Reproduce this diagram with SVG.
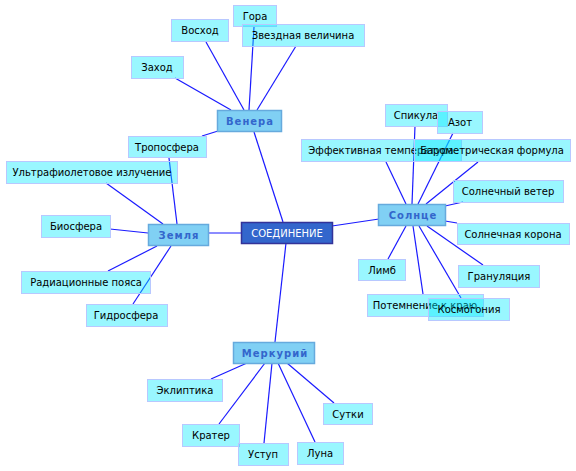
<svg xmlns="http://www.w3.org/2000/svg" width="576" height="471" viewBox="0 0 576 471">
<style>
.c line{stroke:#1a1aff;stroke-width:1.2}
.leaf rect{fill:#00eaff;fill-opacity:0.4;stroke:#b8c8ff;stroke-width:1}
.leaf text{font-family:"DejaVu Sans",sans-serif;font-size:10px;fill:#000;text-anchor:middle}
.main rect{fill:#80d0f4;stroke:#66aadd;stroke-width:1.5}
.main text{font-family:"DejaVu Sans",sans-serif;font-size:10px;font-weight:bold;fill:#3366cc;text-anchor:middle;letter-spacing:1px}
.root rect{fill:#3366cc;stroke:#333399;stroke-width:1.5}
.root text{font-family:"DejaVu Sans",sans-serif;font-size:10px;fill:#fff;text-anchor:middle}
</style>
<rect width="576" height="471" fill="#fff"/>
<g id="connectors" class="c">
<line x1="254" y1="132" x2="283" y2="222"/>
<line x1="208" y1="233" x2="241" y2="233"/>
<line x1="332" y1="226" x2="379" y2="219"/>
<line x1="286" y1="243" x2="275" y2="342"/>
<line x1="175" y1="78" x2="231" y2="110"/>
<line x1="206" y1="42" x2="244" y2="110"/>
<line x1="254" y1="27" x2="249" y2="110"/>
<line x1="296" y1="46" x2="257" y2="110"/>
<line x1="202" y1="136" x2="218" y2="131"/>
<line x1="169" y1="158" x2="177" y2="224"/>
<line x1="106" y1="183" x2="163" y2="224"/>
<line x1="110" y1="229" x2="148" y2="233"/>
<line x1="108" y1="271" x2="157" y2="246"/>
<line x1="133" y1="304" x2="171" y2="246"/>
<line x1="415" y1="126" x2="412" y2="204"/>
<line x1="453" y1="133" x2="418" y2="204"/>
<line x1="386" y1="162" x2="406" y2="204"/>
<line x1="478" y1="162" x2="426" y2="204"/>
<line x1="463" y1="202" x2="445" y2="206"/>
<line x1="445" y1="221" x2="457" y2="223"/>
<line x1="388" y1="259" x2="406" y2="226"/>
<line x1="483" y1="265" x2="427" y2="226"/>
<line x1="423" y1="294" x2="413" y2="226"/>
<line x1="461" y1="298" x2="419" y2="226"/>
<line x1="211" y1="379" x2="247" y2="363"/>
<line x1="219" y1="424" x2="265" y2="363"/>
<line x1="264" y1="443" x2="272" y2="363"/>
<line x1="315" y1="442" x2="278" y2="363"/>
<line x1="334" y1="403" x2="287" y2="363"/>
</g>
<g id="root" class="root"><rect x="241.5" y="222.5" width="91" height="21"/><text x="287" y="236.5">СОЕДИНЕНИЕ</text></g>
<g id="venera" class="main"><rect x="217.5" y="110.5" width="64" height="21"/><text x="250" y="124.5">Венера</text></g>
<g id="zemlya" class="main"><rect x="148.5" y="224.5" width="60" height="21"/><text x="179" y="238.5">Земля</text></g>
<g id="solnce" class="main"><rect x="378.5" y="204.5" width="67" height="21"/><text x="413" y="218.5">Солнце</text></g>
<g id="merkuriy" class="main"><rect x="233.5" y="342.5" width="81" height="21"/><text x="275" y="356.5">Меркурий</text></g>
<g id="gora" class="leaf"><rect x="233.5" y="5.5" width="43" height="21"/><text x="255" y="19.5">Гора</text></g>
<g id="voshod" class="leaf"><rect x="171.5" y="19.5" width="57" height="22"/><text x="200" y="34">Восход</text></g>
<g id="zvezdnaya" class="leaf"><rect x="242.5" y="24.5" width="122" height="22"/><text x="303" y="39">Звездная величина</text></g>
<g id="zahod" class="leaf"><rect x="131.5" y="56.5" width="52" height="22"/><text x="157" y="71">Заход</text></g>
<g id="troposfera" class="leaf"><rect x="128.5" y="136.5" width="78" height="21"/><text x="167" y="150.5">Тропосфера</text></g>
<g id="uf" class="leaf"><rect x="6.5" y="161.5" width="171" height="22"/><text x="92" y="176">Ультрафиолетовое излучение</text></g>
<g id="biosfera" class="leaf"><rect x="41.5" y="215.5" width="69" height="22"/><text x="76" y="230">Биосфера</text></g>
<g id="radiacionnye" class="leaf"><rect x="21.5" y="271.5" width="129" height="22"/><text x="86" y="286">Радиационные пояса</text></g>
<g id="gidrosfera" class="leaf"><rect x="86.5" y="304.5" width="81" height="22"/><text x="126" y="319">Гидросфера</text></g>
<g id="spikula" class="leaf"><rect x="385.5" y="104.5" width="62" height="22"/><text x="416" y="119">Спикула</text></g>
<g id="azot" class="leaf"><rect x="437.5" y="111.5" width="45" height="22"/><text x="460" y="126">Азот</text></g>
<g id="effektivnaya" class="leaf"><rect x="301.5" y="139.5" width="160" height="22"/><text x="381" y="154">Эффективная температура</text></g>
<g id="barometricheskaya" class="leaf"><rect x="414.5" y="139.5" width="156" height="22"/><text x="492" y="154">Барометрическая формула</text></g>
<g id="veter" class="leaf"><rect x="453.5" y="180.5" width="110" height="22"/><text x="508" y="195">Солнечный ветер</text></g>
<g id="korona" class="leaf"><rect x="457.5" y="223.5" width="112" height="21"/><text x="513" y="237.5">Солнечная корона</text></g>
<g id="limb" class="leaf"><rect x="358.5" y="259.5" width="47" height="21"/><text x="382" y="273.5">Лимб</text></g>
<g id="granulyaciya" class="leaf"><rect x="458.5" y="265.5" width="81" height="22"/><text x="499" y="280">Грануляция</text></g>
<g id="potemnenie" class="leaf"><rect x="367.5" y="294.5" width="116" height="22"/><text x="425" y="309">Потемнение к краю</text></g>
<g id="kosmogoniya" class="leaf"><rect x="428.5" y="298.5" width="81" height="22"/><text x="469" y="313">Космогония</text></g>
<g id="ekliptika" class="leaf"><rect x="147.5" y="379.5" width="75" height="22"/><text x="185" y="394">Эклиптика</text></g>
<g id="krater" class="leaf"><rect x="182.5" y="424.5" width="57" height="22"/><text x="211" y="439">Кратер</text></g>
<g id="ustup" class="leaf"><rect x="238.5" y="443.5" width="50" height="22"/><text x="263" y="458">Уступ</text></g>
<g id="luna" class="leaf"><rect x="297.5" y="442.5" width="46" height="22"/><text x="320" y="457">Луна</text></g>
<g id="sutki" class="leaf"><rect x="323.5" y="403.5" width="49" height="21"/><text x="348" y="417.5">Сутки</text></g>
</svg>
